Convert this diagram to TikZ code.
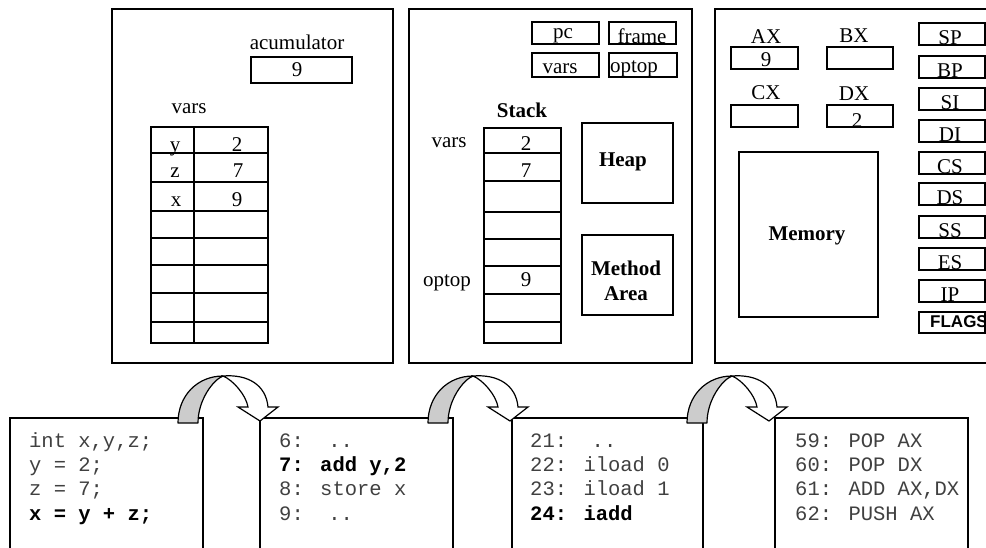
\documentclass[tikz,border=0pt]{standalone}
\usepackage{fontspec}
\setmainfont{Liberation Serif}
\newfontfamily\codefont{Liberation Mono}
\newfontfamily\flagfont{Liberation Sans}
\usetikzlibrary{calc,fit}
\definecolor{codegray}{gray}{0.25}
\definecolor{tailgray}{gray}{0.8}
\tikzset{
  boxframe/.style={draw, line width=1.3pt, inner sep=0pt, outer sep=0pt},
  gridline/.style={line width=1.3pt},
  txt/.style={font=\fontsize{21}{26}\selectfont, anchor=base, inner sep=0pt},
  btxt/.style={font=\fontsize{21}{26}\selectfont\bfseries, anchor=base, inner sep=0pt},
  code/.style={font=\fontsize{20.5}{24}\selectfont\codefont, text=codegray, anchor=base west, inner sep=0pt},
  codeb/.style={font=\fontsize{20.5}{24}\selectfont\codefont\bfseries, text=black, anchor=base west, inner sep=0pt},
  turnarrow/.pic={
    % shaded rising tail
    \draw[fill=tailgray, line width=1.2pt, line join=round]
      (0,0) .. controls (0,-28) and (20,-47) .. (45,-47)
      .. controls (35,-43) and (20,-23) .. (20,0) -- cycle;
    % descending band with arrow head
    \draw[fill=white, line width=1.2pt, line join=miter]
      (45,-47) .. controls (55,-43) and (68,-28) .. (70,-16)
      -- (60,-16) -- (82,-2) -- (100,-16) -- (90,-16)
      .. controls (88,-38) and (70,-49) .. (45,-47) -- cycle;
  },
}
\begin{document}
\begin{tikzpicture}[x=1pt,y=-1pt]
\useasboundingbox (0,0) rectangle (986,547);
\clip (0,0) rectangle (986,547);

% ---------- panel 1: variables and accumulator ----------
\node[boxframe, fit={(112,9) (393,363)}] (langpanel) {};
\node[txt] (acclabel) at (297,49) {acumulator};
\node[boxframe, fit={(251,57) (352,83)}] (acc) {};
\node[txt] (accval) at (297,76) {9};
\node[txt] (varslabel) at (189,113) {vars};
\node[boxframe, fit={(151,127) (268,343)}] (vartable) {};
\draw[gridline] (194,127) -- (194,343);
\foreach \yy in {153,182,211,238,265,293,322}
  \draw[gridline] (151,\yy) -- (268,\yy);
\node[txt] (vy)  at (175,151) {y};
\node[txt] (vyv) at (237,151) {2};
\node[txt] (vz)  at (175,177) {z};
\node[txt] (vzv) at (238,177) {7};
\node[txt] (vx)  at (176,206) {x};
\node[txt] (vxv) at (237,206) {9};

% ---------- panel 2: JVM ----------
\node[boxframe, fit={(409,9) (692,363)}] (jvmpanel) {};
\node[boxframe, fit={(532,22) (599,44)}] (pcreg) {};
\node[txt] (pctxt) at (563,38) {pc};
\node[boxframe, fit={(609,22) (676,44)}] (framereg) {};
\node[txt] (frametxt) at (642,43) {frame};
\node[boxframe, fit={(532,53) (599,77)}] (varsreg) {};
\node[txt] (varstxt) at (560,73) {vars};
\node[boxframe, fit={(609,53) (677,77)}] (optopreg) {};
\node[txt] (optoptxt) at (634,72) {optop};

\node[btxt] (stacktitle) at (522,117) {Stack};
\node[boxframe, fit={(484,128) (561,343)}] (stack) {};
\foreach \yy in {153,181,212,239,266,294,322}
  \draw[gridline] (484,\yy) -- (561,\yy);
\node[txt] (svars) at (449,147) {vars};
\node[txt] (s1) at (526,150) {2};
\node[txt] (s2) at (526,177) {7};
\node[txt] (soptop) at (447,286) {optop};
\node[txt] (s3) at (526,286) {9};

\node[boxframe, fit={(582,123) (673,203)}] (heap) {};
\node[btxt] (heaptxt) at (623,166) {Heap};
\node[boxframe, fit={(582,235) (673,315)}] (method) {};
\node[btxt] (methodtxt) at (626,275) {Method};
\node[btxt] (areatxt) at (626,300) {Area};

% ---------- panel 3: x86 ----------
\node[boxframe, fit={(715,9) (1000,363)}] (cpupanel) {};
\node[txt] (axlbl) at (766,43) {AX};
\node[boxframe, fit={(731,47) (798,69)}] (ax) {};
\node[txt] (axval) at (766,66) {9};
\node[txt] (bxlbl) at (854,42) {BX};
\node[boxframe, fit={(827,47) (893,69)}] (bx) {};
\node[txt] (cxlbl) at (766,99) {CX};
\node[boxframe, fit={(731,105) (798,127)}] (cx) {};
\node[txt] (dxlbl) at (854,100) {DX};
\node[boxframe, fit={(827,105) (893,127)}] (dx) {};
\node[txt] (dxval) at (857,127) {2};
\node[boxframe, fit={(739,152) (878,317)}] (memory) {};
\node[btxt] (memtxt) at (807,240) {Memory};

\foreach \rn/\rt in {SP/23,BP/56,SI/88,DI/120,CS/152,DS/183,SS/216,ES/248,IP/280}{
  \node[boxframe, fit={(919,\rt) (985,\rt+22)}] (reg\rn) {};
  \node[txt] (reg\rn txt) at (950,\rt+21) {\rn};
}
\node[boxframe, fit={(919,312) (985,333)}] (regFLAGS) {};
\node[font=\fontsize{17}{20}\selectfont\flagfont\bfseries, anchor=base west, inner sep=0pt]
  (flagstxt) at (930,327) {FLAGS};

% ---------- code listings ----------
\node[boxframe, fit={(10,418) (203,560)}] (code1) {};
\node[boxframe, fit={(260,418) (453,560)}] (code2) {};
\node[boxframe, fit={(512,418) (703,560)}] (code3) {};
\node[boxframe, fit={(775,418) (968,560)}] (code4) {};

\node[code]  (c1a) at (29,447)   {int x,y,z;};
\node[code]  (c1b) at (29,471.3) {y = 2;};
\node[code]  (c1c) at (29,495.6) {z = 7;};
\node[codeb] (c1d) at (29,520)   {x = y + z;};

\node[code]  (c2a) at (279,447)   {6:~~..};
\node[codeb] (c2b) at (279,471.3) {7: add y,2};
\node[code]  (c2c) at (279,495.6) {8: store x};
\node[code]  (c2d) at (279,520)   {9:~~..};

\node[code]  (c3a) at (530,447)   {21:~~..};
\node[code]  (c3b) at (530,471.3) {22: iload 0};
\node[code]  (c3c) at (530,495.6) {23: iload 1};
\node[codeb] (c3d) at (530,520)   {24: iadd};

\node[code]  (c4a) at (795,447)   {59: POP AX};
\node[code]  (c4b) at (795,471.3) {60: POP DX};
\node[code]  (c4c) at (795,495.6) {61: ADD AX,DX};
\node[code]  (c4d) at (795,520)   {62: PUSH AX};

% ---------- turning arrows between listings ----------
\pic at ($(code1.north east)+(-25,5)$) {turnarrow};
\pic at ($(code2.north east)+(-25,5)$) {turnarrow};
\pic at ($(code3.north east)+(-16,5)$) {turnarrow};
\end{tikzpicture}
\end{document}
